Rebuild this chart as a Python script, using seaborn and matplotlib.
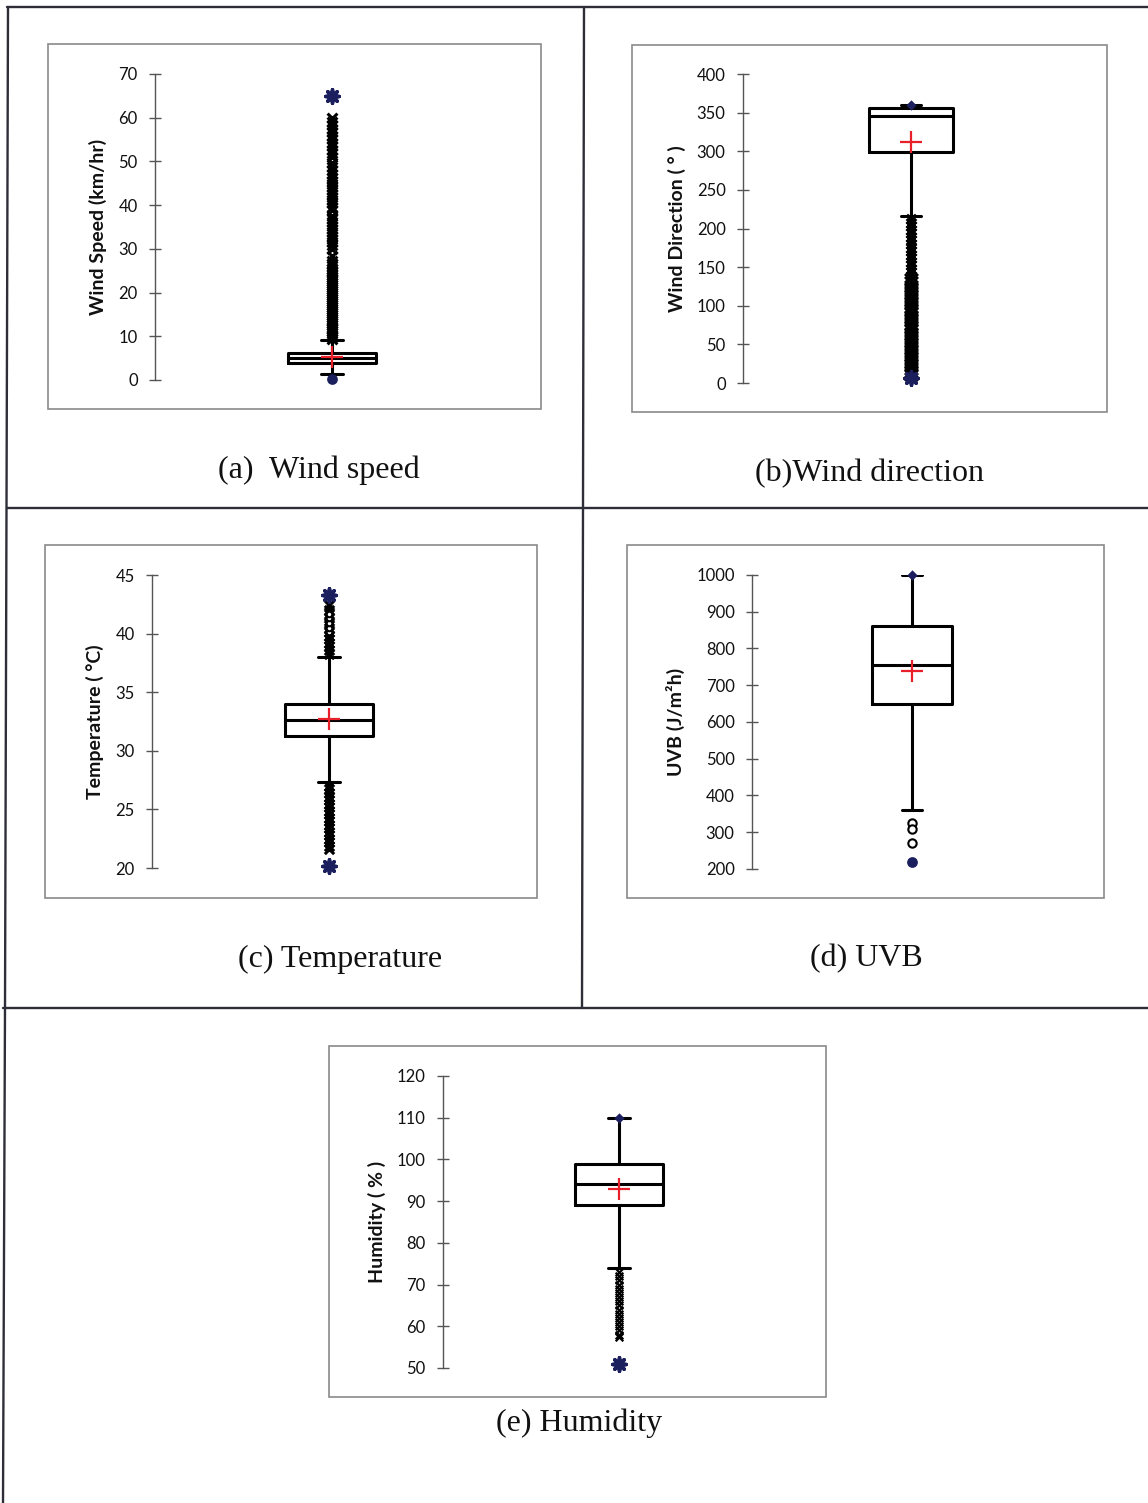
import matplotlib
matplotlib.use("Agg")
import matplotlib.pyplot as plt
from matplotlib.patches import Rectangle
from matplotlib.lines import Line2D
import seaborn as sns

sns.set_theme(style="white")
plt.rcParams["font.family"] = ["Lato", "DejaVu Sans"]

# ---- summary statistics (whisker_low, q1, median, q3, whisker_high, mean) ----
wind_speed_stats = dict(whislo=1.3, q1=3.9, med=5.0, q3=6.2, whishi=9.1, mean=5.3)
wind_dir_stats = dict(whislo=216, q1=299, med=345, q3=356, whishi=360, mean=312)
temp_stats = dict(whislo=27.3, q1=31.3, med=32.6, q3=34.0, whishi=38.0, mean=32.7)
uvb_stats = dict(whislo=360, q1=650, med=755, q3=861, whishi=1000, mean=740)
humidity_stats = dict(whislo=74, q1=89, med=94, q3=99, whishi=110, mean=93)

# ---- outliers ----
wind_speed_out_x = [9.3, 9.8, 10.2, 10.7, 11.1, 11.6, 12.0, 12.5, 13.0, 13.4, 13.9,
                    14.4, 14.8, 15.3, 15.7, 16.2, 16.6, 17.1, 17.6, 18.0, 18.5, 19.0,
                    19.4, 19.9, 20.3, 20.8, 21.3, 21.7, 22.2, 22.6, 23.1, 23.6, 24.1,
                    24.6, 25.0, 25.5, 26.0, 26.6, 27.2, 28.4, 30.0, 30.8, 31.5, 32.3,
                    33.0, 33.8, 34.5, 35.3, 36.1, 36.8, 37.5, 38.9, 39.6, 40.4, 41.1,
                    41.9, 42.6, 43.4, 44.1, 44.9, 45.6, 46.3, 47.2, 48.0, 48.8, 49.6,
                    51.1, 51.9, 52.7, 53.5, 54.3, 55.1, 55.9, 56.7, 57.5, 58.3, 59.1, 60.0]
wind_dir_out_x = [212, 207, 203, 198, 194, 189, 185, 180, 175, 171, 166, 162, 157, 153,
                  148, 144, 139, 135, 131, 126, 122, 117, 113, 108, 104, 99, 95, 90, 86,
                  81, 77, 72, 68, 63, 59, 54, 50, 45, 41, 36, 32, 27, 23, 18, 14, 10]
temp_out_x = [38.3, 38.6, 38.9, 39.2, 39.5, 39.8, 40.1, 40.5, 40.9, 41.3, 41.7, 42.0,
              42.4, 27.0, 26.7, 26.4, 26.1, 25.8, 25.5, 25.2, 24.9, 24.6, 24.3, 24.0,
              23.7, 23.4, 23.1, 22.8, 22.5, 22.2, 21.9, 21.6]
temp_out_o = [40.1, 40.5, 40.9, 41.3, 41.7]
uvb_out_o = [325, 309, 271]
humidity_out_x = [73, 72, 71, 70, 69, 68, 67, 66, 65, 64, 63, 62, 61, 60, 59, 58, 57.5]

# ---- extremes: (value, marker kind) ----
wind_speed_max, wind_speed_min = (65.0, "star"), (0.2, "dot")
wind_dir_max, wind_dir_min = (360, "diamond"), (6, "star")
temp_max, temp_min = (43.3, "star"), (20.2, "star")
uvb_max, uvb_min = (1000, "diamond"), (219, "dot")
humidity_max, humidity_min = (110, "diamond"), (51, "star")

# ---- axis setup ----
y_labels = ["Wind Speed (km/hr)", "Wind Direction ( ° )", "Temperature ( °C)",
            "UVB (J/m²h)", "Humidity ( % )"]
y_limits = [(0, 70), (0, 400), (20, 45), (200, 1000), (50, 120)]
y_ticks = [list(range(0, 71, 10)), list(range(0, 401, 50)), list(range(20, 46, 5)),
           list(range(200, 1001, 100)), list(range(50, 121, 10))]
titles = ["(a)  Wind speed", "(b)Wind direction", "(c) Temperature", "(d) UVB",
          "(e) Humidity"]

W, H = 1148, 1503
fig = plt.figure(figsize=(W / 100, H / 100), dpi=100)
fig.patch.set_facecolor("white")


def fx(px):
    return px / W


def fy(py):
    return 1 - py / H


# axes placement in pixels: left, top, right, bottom
axes_px = [(155, 74, 509, 380), (743, 74, 1079, 383), (152, 575, 506, 868),
           (752, 575, 1072, 869), (443, 1076, 795, 1368)]
# grey frames around each chart
frames_px = [(48, 44, 541, 409), (632, 45, 1107, 412), (45, 545, 537, 898),
             (627, 545, 1104, 898), (329, 1046, 826, 1397)]
title_pos = [(319, 470), (869, 474), (340, 959), (866, 959), (579, 1423)]
# outlier marker size / stroke per panel
x_marker_size = [50, 70, 45, 45, 30]
x_marker_lw = [2.2, 2.8, 2.2, 2.0, 1.6]

stats = [wind_speed_stats, wind_dir_stats, temp_stats, uvb_stats, humidity_stats]
outs_x = [wind_speed_out_x, wind_dir_out_x, temp_out_x, [], humidity_out_x]
outs_o = [[], [], temp_out_o, uvb_out_o, []]
extremes = [(wind_speed_max, wind_speed_min), (wind_dir_max, wind_dir_min),
            (temp_max, temp_min), (uvb_max, uvb_min), (humidity_max, humidity_min)]

navy = "#1c1f5e"
marker_style = {
    "star": dict(marker=(8, 2, 0), s=90, linewidth=2.6, color=navy),
    "diamond": dict(marker="D", s=28, linewidth=0, color=navy),
    "dot": dict(marker="o", s=60, linewidth=0, color=navy),
}

for i in range(5):
    l, t, r, b = axes_px[i]
    ax = fig.add_axes([fx(l), fy(b), fx(r - l), (b - t) / H])
    ax.set_facecolor("none")
    st = dict(stats[i])
    st["fliers"] = []
    ax.bxp([st], positions=[0.5], widths=0.25, showmeans=False, showfliers=False,
           patch_artist=False,
           boxprops=dict(color="black", linewidth=2.2),
           medianprops=dict(color="black", linewidth=2.2),
           whiskerprops=dict(color="black", linewidth=2.2),
           capprops=dict(color="black", linewidth=2.2),
           capwidths=0.06)
    vals = outs_x[i]
    if vals:
        if i == 1:
            # upper run of the wind-direction outliers is drawn narrower
            groups = [([v for v in vals if v > 137], 45, 2.4),
                      ([v for v in vals if v <= 137], 75, 3.0)]
        else:
            groups = [(vals, x_marker_size[i], x_marker_lw[i])]
        for gv, gs, glw in groups:
            sns.scatterplot(x=[0.5] * len(gv), y=gv, marker="x", s=gs, color="black",
                            linewidth=glw, ax=ax, clip_on=False, zorder=3)
    if outs_o[i]:
        osize = 36 if i == 3 else 16
        sns.scatterplot(x=[0.5] * len(outs_o[i]), y=outs_o[i], marker="o", s=osize,
                        facecolor="white", edgecolor="black", linewidth=1.5, ax=ax,
                        clip_on=False, zorder=4)
    for val, kind in extremes[i]:
        sns.scatterplot(x=[0.5], y=[val], ax=ax, clip_on=False, zorder=5,
                        **marker_style[kind])
    sns.scatterplot(x=[0.5], y=[st["mean"]], marker="+", s=260, color="#e8202a",
                    linewidth=1.6, ax=ax, clip_on=False, zorder=6)

    ax.set_xlim(0, 1)
    ax.set_ylim(*y_limits[i])
    ax.set_yticks(y_ticks[i])
    ax.set_xticks([])
    for side in ["top", "right", "bottom"]:
        ax.spines[side].set_visible(False)
    ax.spines["left"].set_color("#555555")
    ax.spines["left"].set_linewidth(1.0)
    ax.tick_params(axis="y", direction="inout", length=9, width=1.0, colors="#555555",
                   labelcolor="#111111", labelsize=12, pad=8, left=True)
    ax.set_ylabel(y_labels[i], fontsize=14, fontweight="bold", color="#111111",
                  labelpad=8)
    ax.grid(False)

    fl, ft, fr, fb = frames_px[i]
    fig.patches.append(Rectangle((fx(fl), fy(fb)), fx(fr - fl), (fb - ft) / H,
                                 transform=fig.transFigure, fill=False,
                                 edgecolor="#8a8a8a", linewidth=1.2))
    tx, ty = title_pos[i]
    fig.text(fx(tx), fy(ty), titles[i], ha="center", va="center", fontsize=23,
             family=["Liberation Serif", "DejaVu Serif"], color="#111111")

# outer table rules
rule = dict(transform=fig.transFigure, color="#2e2e38", linewidth=1.7)
fig.lines.extend([
    Line2D([fx(7), fx(1148)], [fy(7), fy(7)], **rule),
    Line2D([fx(7), fx(1148)], [fy(508), fy(508)], **rule),
    Line2D([fx(3), fx(1148)], [fy(1008), fy(1008)], **rule),
    Line2D([fx(8), fx(5)], [fy(7), fy(1008)], **rule),
    Line2D([fx(5), fx(3)], [fy(1008), fy(1503)], **rule),
    Line2D([fx(584), fx(582)], [fy(7), fy(1008)], **rule),
])

fig.savefig("out.png", dpi=100, facecolor="white")
